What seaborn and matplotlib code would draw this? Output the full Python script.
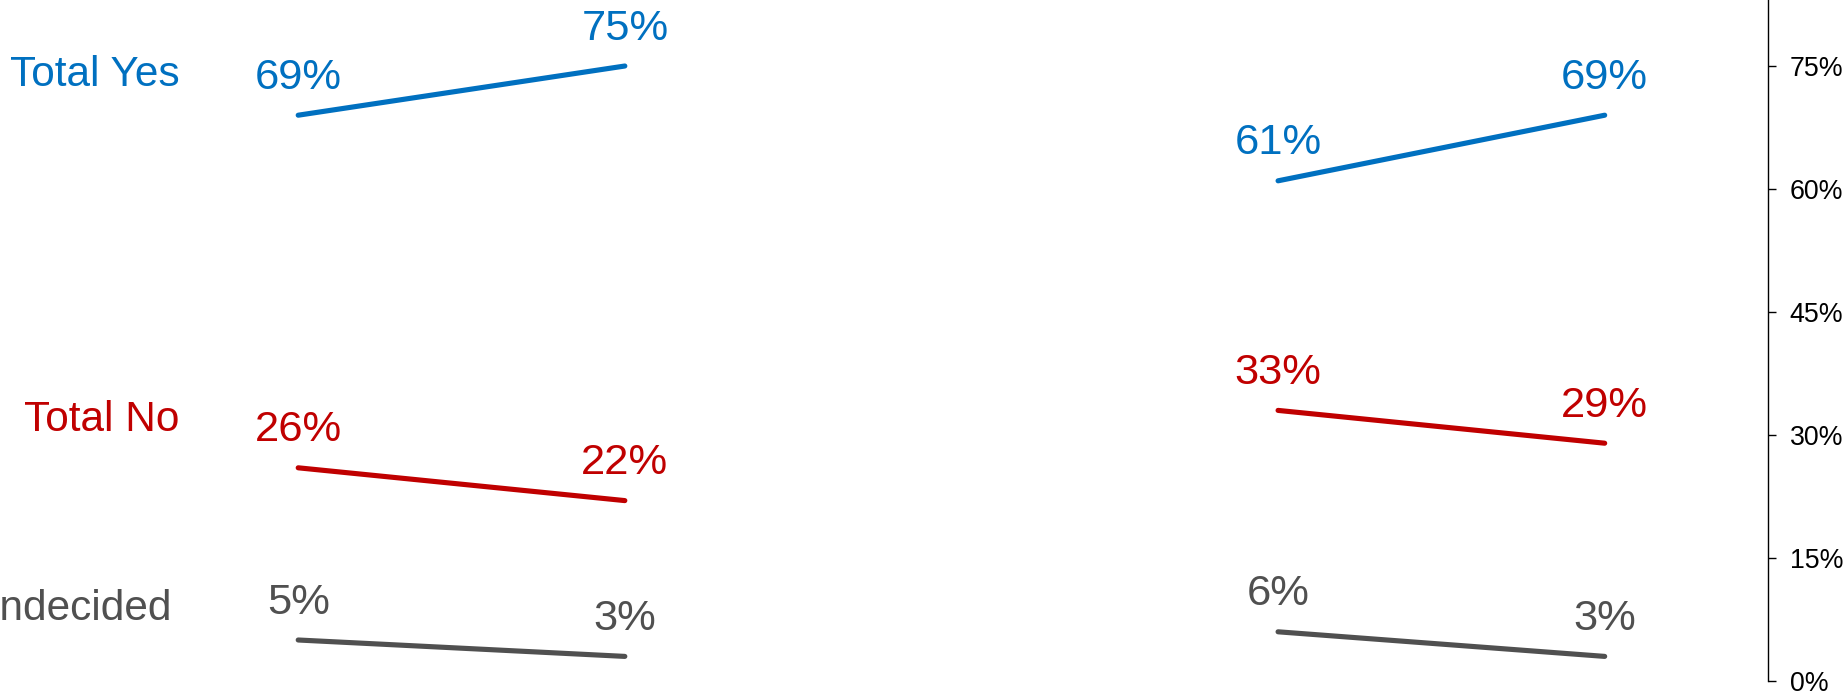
import matplotlib
matplotlib.use("Agg")
import matplotlib.pyplot as plt
from matplotlib.ticker import FuncFormatter
import pandas as pd
import seaborn as sns

# Survey results: two comparisons, each with a before/after pair of readings
groups = ["A", "B"]
periods = ["Before", "After"]
series = ["Total Yes", "Total No", "Undecided"]
values_a = {"Total Yes": [69, 75], "Total No": [26, 22], "Undecided": [5, 3]}
values_b = {"Total Yes": [61, 69], "Total No": [33, 29], "Undecided": [6, 3]}
y_ticks = [0, 15, 30, 45, 60, 75]

colors = {"Total Yes": "#0070C0", "Total No": "#C00000", "Undecided": "#505050"}
group_offset = {"A": 0, "B": 3}
label_pos = {"Total Yes": (-0.364, 73.9), "Total No": (-0.364, 31.8),
             "Undecided": (-0.385, 8.8)}

rows = []
for g, vals in zip(groups, [values_a, values_b]):
    for s in series:
        for i, p in enumerate(periods):
            rows.append({"group": g, "period": p, "series": s,
                         "x": group_offset[g] + i, "value": vals[s][i]})
df = pd.DataFrame(rows)

sns.set_theme(style="white")
plt.rcParams["font.family"] = ["Liberation Sans", "DejaVu Sans"]

fig = plt.figure(figsize=(18.48, 6.93), dpi=100)
ax = fig.add_axes([0, 12 / 693, 1768 / 1848, 681 / 693])

sns.lineplot(data=df, x="x", y="value", hue="series", units="group",
             estimator=None, palette=colors, linewidth=3.7,
             solid_capstyle="round", legend=False, ax=ax)

# value labels above each end point
for _, r in df.iterrows():
    ax.text(r["x"], r["value"] + 4.55, f"{r['value']}%", color=colors[r["series"]],
            ha="center", va="center", fontsize=31.3)

# series names on the left
for s in series:
    x, y = label_pos[s]
    ax.text(x, y, s, color=colors[s], ha="right", va="center", fontsize=30.5)

ax.set_xlim(-0.913, 4.5)
ax.set_ylim(0, 83.05)
ax.set_yticks(y_ticks)
ax.yaxis.set_major_formatter(FuncFormatter(lambda v, _: f"{v:.0f}%"))
ax.yaxis.tick_right()
ax.tick_params(axis="y", direction="out", length=5.5, width=1.0, color="black",
               labelsize=19.3, labelcolor="black", pad=10, right=True)
ax.set_xticks([])
ax.set_xlabel("")
ax.set_ylabel("")
for side in ["left", "top", "bottom"]:
    ax.spines[side].set_visible(False)
ax.spines["right"].set_color("black")
ax.spines["right"].set_linewidth(1.0)

fig.savefig("out.png", dpi=100)
